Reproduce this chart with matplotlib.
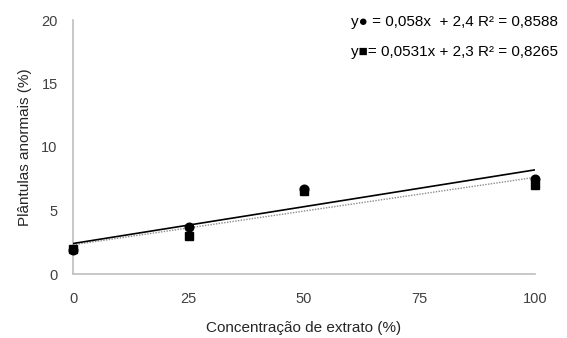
import matplotlib
matplotlib.use("Agg")
import matplotlib.pyplot as plt
import numpy as np

plt.rcParams['font.family'] = ['Liberation Sans', 'DejaVu Sans']

concentracao = [0, 25, 50, 100]
serie_circulo = [1.9, 3.7, 6.7, 7.5]
serie_quadrado = [2.0, 3.0, 6.5, 7.0]

# trend lines given by the fitted equations
coef_circulo = (0.058, 2.4)
coef_quadrado = (0.0531, 2.3)

xticks = [0, 25, 50, 75, 100]
yticks = [0, 5, 10, 15, 20]

fig = plt.figure(figsize=(5.67, 3.38), dpi=100)
ax = fig.add_axes([73/567, 64/338, 462/567, 254/338])

xs = np.array([0, 100])
ax.plot(xs, coef_quadrado[0]*xs + coef_quadrado[1], color='#8c8c8c', lw=1.0,
        linestyle=(0, (1, 1)), zorder=2)
ax.plot(xs, coef_circulo[0]*xs + coef_circulo[1], color='black', lw=1.2, zorder=3)

ax.plot(concentracao, serie_quadrado, 's', color='black', ms=6, zorder=4, clip_on=False)
ax.plot(concentracao, serie_circulo, 'o', color='black', ms=6.2, zorder=4, clip_on=False)

ax.set_xlim(0, 100)
ax.set_ylim(0, 20)
ax.set_xticks(xticks)
ax.set_yticks(yticks)
ax.tick_params(length=0, labelsize=10.5, colors='#404040')
ax.tick_params(axis='y', pad=11)
ax.tick_params(axis='x', pad=13)
for s in ['top', 'right']:
    ax.spines[s].set_visible(False)
for s in ['left', 'bottom']:
    ax.spines[s].set_color('#bfbfbf')
    ax.spines[s].set_linewidth(1.2)

ax.set_xlabel('Concentração de extrato (%)', fontsize=11, color='#262626', labelpad=11)
ax.set_ylabel('Plântulas anormais (%)', fontsize=11, color='#262626', labelpad=7)

fig.text(558/567, 1 - 22/338, 'y\u25cf = 0,058x  + 2,4 R² = 0,8588', ha='right', va='center',
         fontsize=11, color='black', family=['Liberation Sans', 'DejaVu Sans'])
fig.text(558/567, 1 - 52/338, 'y\u25a0= 0,0531x + 2,3 R² = 0,8265', ha='right', va='center',
         fontsize=11, color='black', family=['Liberation Sans', 'DejaVu Sans'])

fig.savefig('out.png', dpi=100)
